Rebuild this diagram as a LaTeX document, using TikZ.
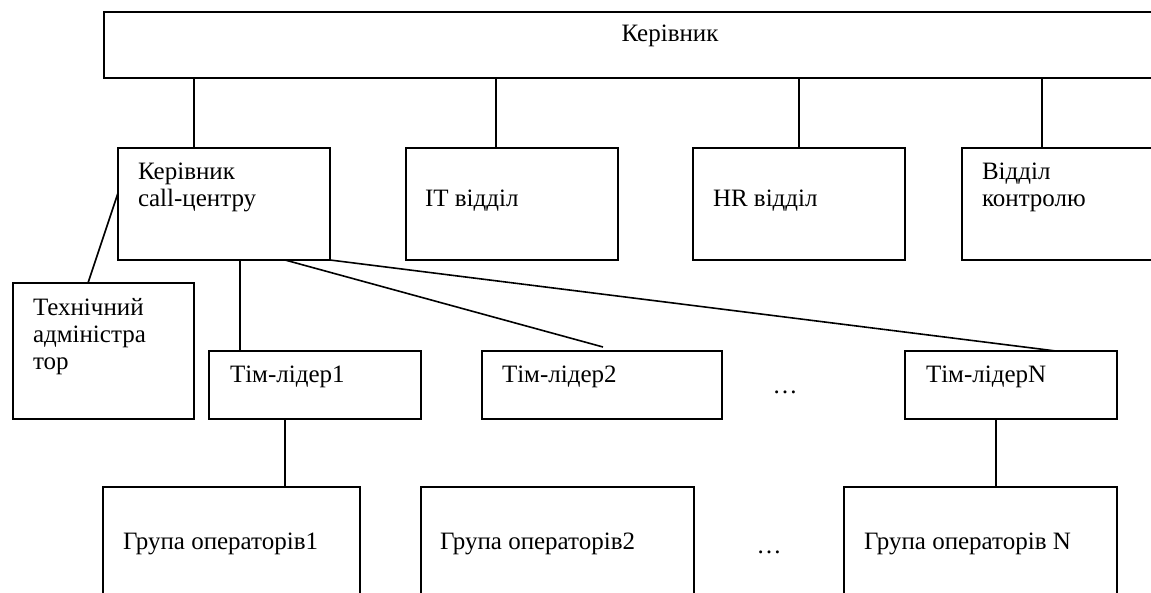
\documentclass[tikz,border=0pt]{standalone}
\usepackage{fontspec}
\setmainfont{Liberation Serif}
\begin{document}
\begin{tikzpicture}[x=1pt,y=-1pt,
  box/.style={draw, line width=1.6pt, inner sep=0pt, outer sep=0pt, anchor=north west},
  txt/.style={inner sep=0pt, outer sep=0pt, anchor=base west, align=left, font=\fontsize{25}{27}\selectfont},
  link/.style={line width=1.6pt}]
\useasboundingbox (0,0) rectangle (1151,593);
\clip (0,0) rectangle (1151,593);
% boxes
\node[box, minimum width=1076pt, minimum height=66pt] (top) at (104,12) {};
\node[box, minimum width=212pt, minimum height=112pt] (cc) at (118,148) {};
\node[box, minimum width=212pt, minimum height=112pt] (it) at (406,148) {};
\node[box, minimum width=212pt, minimum height=112pt] (hr) at (693,148) {};
\node[box, minimum width=218pt, minimum height=112pt] (ctrl) at (962,148) {};
\node[box, minimum width=181pt, minimum height=136pt] (tech) at (13,283) {};
\node[box, minimum width=212pt, minimum height=68pt] (tl1) at (209,351) {};
\node[box, minimum width=240pt, minimum height=68pt] (tl2) at (482,351) {};
\node[box, minimum width=212pt, minimum height=68pt] (tln) at (905,351) {};
\node[box, minimum width=257pt, minimum height=140pt] (g1) at (103,487) {};
\node[box, minimum width=273pt, minimum height=140pt] (g2) at (421,487) {};
\node[box, minimum width=273pt, minimum height=140pt] (gn) at (844,487) {};
% texts (base = baseline of the last line)
\node[txt, anchor=base] (toptxt) at (670,42) {Керівник};
\node[txt] (cctxt) at (138,207) {Керівник\\call-центру};
\node[txt] (ittxt) at (425,207) {IT відділ};
\node[txt] (hrtxt) at (713,207) {HR відділ};
\node[txt] (ctrltxt) at (982,207) {Відділ\\контролю};
\node[txt] (techtxt) at (33,370) {Технічний\\адміністра\\тор};
\node[txt] (tl1txt) at (230,383) {Тім-лідер1};
\node[txt] (tl2txt) at (502,383) {Тім-лідер2};
\node[txt] (tlntxt) at (926,383) {Тім-лідерN};
\node[txt, anchor=base] (dots1) at (785,393) {…};
\node[txt] (g1txt) at (123,549) {Група операторів1};
\node[txt] (g2txt) at (440,549) {Група операторів2};
\node[txt] (gntxt) at (864,549) {Група операторів N};
\node[txt, anchor=base] (dots2) at (769,553) {…};
% connectors
\draw[link] ([xshift=76pt]cc.north west) -- ([xshift=76pt]cc.north west |- top.south);
\draw[link] ([xshift=90pt]it.north west) -- ([xshift=90pt]it.north west |- top.south);
\draw[link] ([xshift=106pt]hr.north west) -- ([xshift=106pt]hr.north west |- top.south);
\draw[link] ([xshift=80pt]ctrl.north west) -- ([xshift=80pt]ctrl.north west |- top.south);
\draw[link] ([yshift=-45pt]cc.north west) -- ([xshift=75pt]tech.north west);
\draw[link] ([xshift=31pt]tl1.north west |- cc.south) -- ([xshift=31pt]tl1.north west);
\draw[link] ([xshift=167pt]cc.south west) -- ([xshift=121pt,yshift=4pt]tl2.north west);
\draw[link] (cc.south east) -- ([xshift=151pt]tln.north west);
\draw[link] ([xshift=76pt]tl1.south west) -- ([xshift=76pt]tl1.south west |- g1.north);
\draw[link] ([xshift=91pt]tln.south west) -- ([xshift=91pt]tln.south west |- gn.north);
\end{tikzpicture}
\end{document}
